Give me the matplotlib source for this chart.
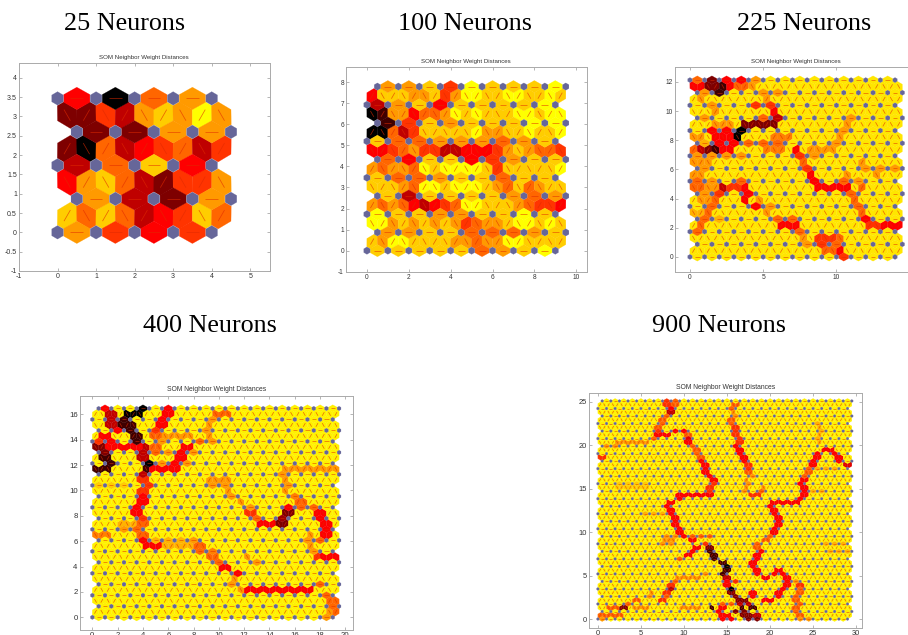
import numpy as np
import matplotlib
matplotlib.use("Agg")
import matplotlib.pyplot as plt
from matplotlib.collections import PolyCollection, LineCollection
from matplotlib.colors import LinearSegmentedColormap, Normalize

# ---- data: distance level per edge cell, 0 = black ... 9 = yellow; one entry per hex row, bottom to top
levels_25 = ["7545", "868634586", "7327", "478632557", "3684", "206345635", "2277", "225378797", "4067"]
levels_100 = ["888886789", "8799888877677998888", "778866678", "9978787875677899898", "988778898",
              "7676434569988876554", "838888767", "8887699899987686788", "866788688", "7677698999985888889",
              "648845788", "4456755334445787665", "866777678", "0063588888977889889", "158788899",
              "0177466798988899899", "378488889", "4888778579988998898", "778598889"]

# larger maps: typical level plus the readings that differ from it: (hex row, level, x) or (hex row, level, x0, x1)
typical_225, typical_400, typical_900 = 8.5, 8.7, 8.7
readings_225 = [
 (16,7,0,1.5),(14,7,12,14),(15,7,11.5),(13,7,13),(12,7,11.5,12),(13,7,.25),(14,7,1),(21,7,1.5,3),(22,7,1),(24,7,1.2),(25,7,1),(23,7,2),
 (15,7,.25,1.25),(13,7,.25,.75),(12,7,.5,1.5),(11,7,1.25,1.75),(10,7,.5,1),(9,7,.75,1.25),(7,7.5,.25,1.25),(6,7.5,1,2),(18,7.5,.5,1),(19,7,.25,.75),
 (22,7,11),(21,7,11),(20,7,10.8),(19,7,10.3),(18,7,9.5,10),(17,7,8,10),(16,7,7.5,8.5),(16,7,1,4),(18,6,4,6),(19,6.5,5.5,7),(17,6.5,5,6.5),
 (28,6,.5),(28,2,1.5),(28,4,2.5),(28,4,3.5),(28,7,4.5),(27,4,.25),(27,4,.75),(27,2,1.25),(27,2,1.75),(27,1,2.25),(27,4,2.75),(27,6,3.25),(27,6,3.75),(27,7,4.25),
 (26,7,1.5),(26,1,2),(26,7,5),(26,7,6),(25,7,5),(24,5,4.5,5.5),(21,2,3.75,6),(20,0,3.4),(19,0,3.2),(22,4,5.75),(22,3,6.25),(23,4,5.75),(22,6,4.6),(22,6,5.4),
 (19,4,1.75,2.75),(18,4,2,3),(17,6,.25),(17,3,.75),(17,2,1.25),(17,1,1.75),(17,4,2.25),(17,4,2.75),(20,4,2),(20,4,2.5),
 (17,4,7.25),(16,5,7.5),(15,6,7.8),(14,5,8.2),(13,4,8.2),(12,4,8.2),(11,4,8.75,11),(12,6,10.5),(13,7,11),
 (11,3,2.25),(11,5,2.75,3.25),(11,4,3.75),(10,5,2),(10,4,3.8),(9,4,4),(8,4,4.2),(12,6,3.75),(9,6,1.8),(8,6,1.7),(7,6,1.3),(6,6,1),(5,6,.8),(4,6,.5),(12,6,.5),(11,6,.25,.75),
 (5,4,6.1,7.5),(6,6,5.75),(6,6,6.5),(7,7,5.5),(8,7,5),(9,7,4.6),(4,6,7.5),(3,7,7.8),(2,7,7.8),
 (6,4,12),(5,5,12.25,12.75),(5,5,13),(5,4,13.25,14.25),(9,6,11.2),(8,6,11.5),(7,6,11.8),(10,6,11),(11,6,11.5),
 (3,5,8.8),(3,5,9.25),(3,5,9.75),(2,5,8.75),(2,5,9.75),(1,6,9),(1,6,9.75),(1,4,10.25),(0,5,10.5),(2,6,10.25),(3,6,10.25),
]
readings_400 = [
 (16,7,2,3),(15,6.5,.2,1.5),(17,7.5,2,3.5),(24,8,0,3),(24,7,9,11),(25,7,9,11),(14,7.5,5,8),(13,7.5,5,8),(12,6.5,8.5,10),(10,7,12.5,13),
 (27,7,15,19.5),(26,7,15),(25,7,15),(24,7,15),(23,7,15.5),(22,6.5,16),(21,6,16.5),(20,6,16,17.5),(28,7,4.8,8),(30,7,4.8,8),(33,7,4.8,8),(32,7,8.7,10),
 (5,4,12.1,17.5),(6,6,18),(4,6,18.5),(3,6,18.8),(2,6,19),(1,6,19.2),(1,7,18.7),(0,7,18.5),(5,7,11.5),(6,7,11),(7,7,11.3),(8,4,11.6),(9,4,10.2,11),(10,6,10),(11,6,9.5),(11,7,12.5),(12,6,8.7),(13,6,8.3),(14,7,8),
 (17,4,13.1,14.6),(17,2,14.85),(19,2,15.3),(18,2.5,15),(20,4,15.6),(19,4,17.9),(18,4,18.2),(17,4,18.4),(16,4,18.6),(15,4,18.5),(14,6,18.3),
 (18,6,12.9),(19,5,12.6),(20,7,12),(21,7,11.5),(22,7,11.3),(23,7,11),(11,4,18,19.5),(11,5,17.8),(12,7,17.3),(13,7,17),(14,7,17),(15,7,17),
 (24,5,4.3),(25,5,4.2),(26,3,4.2),(27,1,4.4),(28,0,4.4),(23,5,4),(22,4,3.9),(21,4,3.8),(20,4,3.7),(19,4,3.7),(18,5,3.9),(17,6,3.9),(16,6,4),(15,6,4.1),(14,4,4),(13,4,4.5),(13,4,5),
 (27,4,4.6,6.9),(28,4,6.6),(29,4,6.8),(30,4,7),(31,4,7.2,8),(32,6,8.5),
 (35,1,2.85),(33,1,3.4),(32,1,3.5),(34,1,3),(31,3,4),(29,3,4.2),(30,3,4.2),(31,4,1.2,3.8),(31,2,.75),(30,2,.9),(29,1,1.25),(28,1,1.4),(27,1,.2,1.3),
 (38,4,.9),(37,3,1.3),(36,3,1.5),(35,3,1.6),(34,4,1.8),(33,4,.6,1.5),(32,5,.4),(32,4,2),
 (38,0,3.9),(37,0,2.6,3.7),(36,1,2.5),(35,1,2.6),
 (38,4,6),(37,4,6),(36,4,5.8),(35,4,5.6),(34,5,5.1),(33,6,5.1),(32,7,5.3),(31,6,5),(30,6,5),
 (37,6,9.8,11),(36,7,9.6),(35,7,9.3),(34,7,9.2),(33,7,9),
]
readings_900 = [
 (46,7,1,2),(47,7,2,6),(28,7.5,5,8),(22,7,7.5,9.5),(21,7,7.5,9),(20,7,7.5,8.5),(18,7.5,27,29),(20,7.5,26,29),(40,7.5,25.5,28),(34,7.5,25,26),
 (47,7.5,26),(48,7.5,26),(49,7.5,26),(50,7.5,26),(51,7.5,26),(52,7.5,26),(35,8,2,6),(36,8,2,6),(22,6,11,13),(11,7,9,12),(3,7,9.5,12),(43,5,.25),
 (33,4,9.25,13.25),(30,4,8,8.5),(31,4,8.7),(32,4,9.25),(34,5,13.3),(35,5,13.25),(36,5,13.5),(37,4,13.3),(38,4,13),(39,4,12.6),(40,4,12.4),(41,4,12.3),(42,4,12),
 (43,6,11.8),(44,6,11.5),(45,6,11.3),(46,6,11),(47,4,10.6),(48,3.5,10.5),(49,6,10.3),(50,4,10),(50,4,8.9,9.5),(49,4,6.5,8.2),(50,5,6.7),
 (51,6,7),(52,6,7.2),(53,6,7.3),(54,6,7.9),(55,3,8.3),(56,4,8.5),(57,5,8.2),(57,6,9),(58,5,8),(58,6,9),(48,6,6.3),
 (29,4,8.3),(28,4,8.5),(27,4,8.8),(26,4,9),(25,4,9.2),(24,4,9.5),(23,4,9.7),(22,4,10),(21,4,10.5,11.5),(20,5,12),(19,4,11.6),(18,4,11.2),(17,4,10,10.8),(16,6,9.5),
 (19,2,12.9),(18,1,13.2),(17,1,13.6),(16,1,14),(15,1,14.3,15),(14,0,15),(13,1,14.8),(12,1,14.6),(11,3,15),(10,4,15),(10,5,15.5),(9,4,15),(8,0,15.3),(7,2,15.7),(6,2,16),(5,2,16.2,17.6),
 (6,4,18),(7,4,18.2),(5,4,19,20.5),(6,4,21),(7,4,21.2),(8,4,21.6),(9,4,21.9),(10,4,22),(11,4,22),(12,4,21.7),(13,4,21.2),(12,4,20.5),(11,4,19.3,20),(12,4,18.9),(13,4,18.4),(14,4,18.2),(15,4,18.1),(16,4,18.3),(17,4,18.5),(18,4,19),
 (30,4,20.2),(31,4,20.3,23.4),(32,4,23.7),(33,4,23.9),(34,4,23.9),(35,4,23.8),(36,4,23.9),(37,4,23.9),(38,6,24.3),(39,6,24.3),(40,6,24.6),(41,4,24.9),(42,4,25),(43,4,25.3),(44,4,25.6),(45,4,26,27.3),(44,4,27.7),(43,4,28),(42,4,28.2),(41,3.5,28.8,29.5),
 (29,4,20.4),(28,4,20.6),(27,4,20.9),(26,4,21.1),(25,4,21),(24,4,20.7),(23,4,20.5),(22,6,20),(21,6,19.5),(20,6,19),(19,6,18.7),
 (57,6,15.8),(56,6,15.8),(55,7,15.7),(54,7,15.5),(53,6,15.6),(52,6,15.8),(51,5,16),(50,5,16),(49,5,16.2),(48,5,16.3),(47,5,16.3),(46,4,16.5),(45,4,16.6),(44,4,16.7),(43,4,16.8),(42,4,17.1),(41,5,17.4),(40,5,17.7),(39,6,17.6),(38,7,17.5),(37,7,17.3),(36,7,17.2),(35,7,17.1),(34,7,17.2),(33,5,17.5,19),(34,6,19.2),(35,7,19.4),
 (3,1,13,13.5),(3,4,14.3),(3,1,16.8,17),(3,1,17.8),(2,4,13.7),(2,4,14.5),(2,5,15.5),(2,2,16.5),(2,2,17.3),(1,4,14.3),(1,4,15.2),(1,2,16.8),(1,2,17.7),(1,3,18.3),(0,4,14.5),(0,4,15.5),(0,2,17.5),(0,2,18.5),(4,6,14.5),(4,6,15),(4,3,16,18),
 (3,6,1,3),(3,2,3.25),(3,7,4,6),(1,6,.5),(1,6,1.5),(1,6,2.5),(0,7,.5),(4,6,3.5),(5,6,4,5),(6,7,5.5),(7,7,6),
 (5,5,7.7),(6,6,7.9),(7,5,8.2),(8,3,8.5),(9,5,8.6),(10,6,8.8),(12,7,12.5),
 (9,5,23.5),(8,6,23.5),(7,6,23.3),(6,6,23.2),(5,6,23),(4,6,23),(3,6,23),(2,6,23.2),(1,6,23.5),(0,7,23.8),(0,7,24.5),(10,7,22.8),
]

panel_names = ["25 Neurons", "100 Neurons", "225 Neurons", "400 Neurons", "900 Neurons"]
axes_title = "SOM Neighbor Weight Distances"
map_sizes = [5, 10, 15, 20, 30]
x_ticks = [[-1, 0, 1, 2, 3, 4, 5], list(range(0, 11, 2)), [0, 5, 10], list(range(0, 21, 2)), list(range(0, 31, 5))]
y_ticks = [[-1, -.5, 0, .5, 1, 1.5, 2, 2.5, 3, 3.5, 4], list(range(-1, 9)), list(range(0, 13, 2)),
           list(range(0, 17, 2)), list(range(0, 26, 5))]

# ---- layout (pixels in a 908x635 image)
W, H = 908, 635
boxes = [(19, 63, 269.5, 271), (346, 67.3, 586.7, 271.7), (675.3, 67.3, 917, 271.5), (79.7, 395.7, 353, 630), (589.3, 393.3, 861.7, 627.7)]
xlims = [(-1, 5.5), (-1, 10.5), (-1, 15.5), (-1, 20.6), (-1, 30.65)]
ylims = [(-1, 4.38), (-1, 8.71), (-1, 13.0), (-1, 17.46), (-1, 26.0)]
heading_xy = [(125, 23.5), (465, 23.5), (804, 23.5), (210, 326.5), (719, 326.5)]
title_pt = [4.45, 4.45, 4.45, 4.9, 4.9]
tick_pt = [5, 4.7, 4.8, 5.6, 5.4]

cmap = LinearSegmentedColormap.from_list("ridge", [(0, "#000000"), (4 / 9, "#ff0000"), (1, "#ffff00")])
norm = Normalize(0, 9)
S3 = np.sqrt(3) / 2
EDGE_HEX = np.array([(0, .29), (.34, .1), (.34, -.1), (0, -.29), (-.34, -.1), (-.34, .1)])
NEURON_HEX = np.array([(0, .175), (.15, .087), (.15, -.087), (0, -.175), (-.15, -.087), (-.15, .087)])


def row_cells(n, r):
    k = r // 2
    if r % 2 == 0:
        xs = (.5 * (k % 2)) + .5 + np.arange(n - 1)
        angles = np.zeros(n - 1)
    else:
        xs = .25 + .5 * np.arange(2 * n - 1)
        angles = np.where((k + np.arange(2 * n - 1)) % 2 == 0, 60.0, -60.0)
    return xs, np.full(xs.shape, r * S3 / 2), angles


def levels_from_strings(rows):
    return [np.array([float(ch) for ch in row]) for row in rows]


def levels_from_readings(n, typical, readings, pairs=False):
    # a ridge crossing a diagonal row passes through both diagonal edges around it
    rows = [np.full(row_cells(n, r)[0].shape, typical) for r in range(2 * n - 1)]
    for item in readings:
        r, lev = item[0], item[1]
        xs = row_cells(n, r)[0]
        if len(item) == 3:
            order = np.argsort(np.abs(xs - item[2]))
            rows[r][order[0]] = lev
            if pairs and r % 2 == 1 and lev <= 6:
                rows[r][order[1]] = min(rows[r][order[1]], lev)
        else:
            rows[r][(xs >= item[2] - .13) & (xs <= item[3] + .13)] = lev
    return rows


all_levels = [levels_from_strings(levels_25), levels_from_strings(levels_100),
              levels_from_readings(15, typical_225, readings_225),
              levels_from_readings(20, typical_400, readings_400, pairs=True),
              levels_from_readings(30, typical_900, readings_900, pairs=True)]

fig = plt.figure(figsize=(W / 100, H / 100), dpi=100, facecolor="white")
plt.rcParams["font.family"] = ["Liberation Sans", "DejaVu Sans"]

for i in range(5):
    l, t, rr, b = boxes[i]
    ax = fig.add_axes([l / W, 1 - b / H, (rr - l) / W, (b - t) / H])
    n = map_sizes[i]
    polys_odd, vals_odd, polys_even, vals_even, segs = [], [], [], [], []
    for r in range(2 * n - 1):
        xs, ys, angs = row_cells(n, r)
        for x, y, a, v in zip(xs, ys, angs, all_levels[i][r]):
            th = np.radians(a)
            R = np.array([[np.cos(th), -np.sin(th)], [np.sin(th), np.cos(th)]])
            poly = EDGE_HEX @ R.T + (x, y)
            (polys_even if r % 2 == 0 else polys_odd).append(poly)
            (vals_even if r % 2 == 0 else vals_odd).append(v)
            d = np.array([np.cos(th), np.sin(th)]) * .165
            segs.append([(x - d[0], y - d[1]), (x + d[0], y + d[1])])
    for polys, vals, z in ((polys_odd, vals_odd, 1), (polys_even, vals_even, 2)):
        ax.add_collection(PolyCollection(polys, array=np.array(vals), cmap=cmap, norm=norm,
                                         edgecolors="face", linewidths=.15, zorder=z))
    ax.add_collection(LineCollection(segs, colors="#e02a00", linewidths=.55, alpha=.65, zorder=3))
    neurons = []
    for k in range(n):
        for c in range(n):
            neurons.append(NEURON_HEX + (c + .5 * (k % 2), k * S3))
    ax.add_collection(PolyCollection(neurons, facecolors="#666699", edgecolors="#666699", linewidths=.15, zorder=4))

    ax.set_xlim(*xlims[i])
    ax.set_ylim(*ylims[i])
    ax.set_xticks(x_ticks[i])
    ax.set_yticks(y_ticks[i])
    ax.set_xticklabels([f"{v:g}" for v in x_ticks[i]])
    ax.set_yticklabels([f"{v:g}" for v in y_ticks[i]])
    ax.tick_params(direction="in", length=2, width=.5, color="#999999", labelsize=tick_pt[i],
                   labelcolor="#333333", pad=1.5, top=True, right=True)
    for s in ax.spines.values():
        s.set_linewidth(.7)
        s.set_color("#aaaaaa")
    ax.set_title(axes_title, fontsize=title_pt[i], color="#333333", pad=3.2)
    hx, hy = heading_xy[i]
    fig.text(hx / W, 1 - hy / H, panel_names[i], family="Liberation Serif", fontsize=18.8,
             color="black", ha="center", va="center")

fig.savefig("out.png", dpi=100, facecolor="white")
